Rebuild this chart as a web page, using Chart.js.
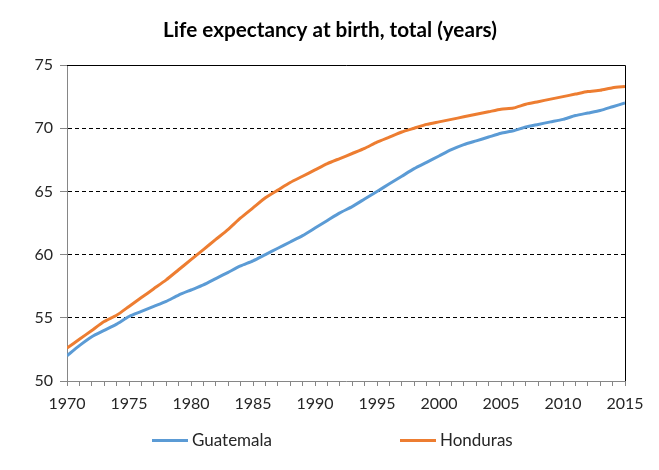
<!DOCTYPE html>
<html>
<head>
<meta charset="utf-8">
<script src="https://cdn.jsdelivr.net/npm/chart.js@4/dist/chart.umd.min.js"></script>
<style>
  html, body { margin: 0; padding: 0; background: #fff; }
  #wrap { width: 659px; height: 470px; position: relative; }
  #legend { position: absolute; top: 430px; left: 0; width: 659px; height: 20px; font-family: Lato, "Open Sans", sans-serif; font-size: 17px; color: #262626; }
  .item { position: absolute; top: 0; height: 20px; line-height: 20px; white-space: nowrap; }
  .swatch { display: inline-block; width: 36px; height: 3px; vertical-align: middle; margin-right: 4px; position: relative; top: -1px; }
</style>
</head>
<body>
<div id="wrap">
  <canvas id="c" width="659" height="470"></canvas>
  <div id="legend"></div>
</div>
<script>
const years = [1970,1971,1972,1973,1974,1975,1976,1977,1978,1979,1980,1981,1982,1983,1984,1985,1986,1987,1988,1989,1990,1991,1992,1993,1994,1995,1996,1997,1998,1999,2000,2001,2002,2003,2004,2005,2006,2007,2008,2009,2010,2011,2012,2013,2014,2015];
const guatemala = [52.0,52.8,53.5,54.0,54.5,55.1,55.5,55.9,56.3,56.8,57.2,57.6,58.1,58.6,59.1,59.5,60.0,60.5,61.0,61.5,62.1,62.7,63.3,63.8,64.4,65.0,65.6,66.2,66.8,67.3,67.8,68.3,68.7,69.0,69.3,69.6,69.8,70.1,70.3,70.5,70.7,71.0,71.2,71.4,71.7,72.0];
const honduras = [52.6,53.3,54.0,54.7,55.2,55.9,56.6,57.3,58.0,58.8,59.6,60.4,61.2,62.0,62.9,63.7,64.5,65.1,65.7,66.2,66.7,67.2,67.6,68.0,68.4,68.9,69.3,69.7,70.0,70.3,70.5,70.7,70.9,71.1,71.3,71.5,71.6,71.9,72.1,72.3,72.5,72.7,72.9,73.0,73.2,73.3];
const yTicks = [50,55,60,65,70,75];
const xLabelYears = [1970,1975,1980,1985,1990,1995,2000,2005,2010,2015];
const seriesNames = ['Guatemala', 'Honduras'];
const seriesColors = ['#5B9BD5', '#ED7D31'];
const titleText = 'Life expectancy at birth, total (years)';

const FONT = 'Lato, "Open Sans", "Noto Sans", sans-serif';

const frame = {
  id: 'frame',
  afterLayout(chart) {
    const t = chart.titleBlock;
    if (t) { t.left = 0; t.right = 660; t.width = 660; }
  },
  afterDraw(chart) {
    const {ctx, chartArea: a} = chart;
    ctx.save();
    ctx.strokeStyle = '#000';
    ctx.lineWidth = 1;
    ctx.beginPath();
    ctx.moveTo(a.left, Math.round(a.top) + 0.5);
    ctx.lineTo(Math.round(a.right) + 0.5, Math.round(a.top) + 0.5);
    ctx.lineTo(Math.round(a.right) + 0.5, a.bottom);
    ctx.stroke();
    ctx.restore();
  }
};

const chart = new Chart(document.getElementById('c'), {
  type: 'line',
  data: {
    datasets: [
      { label: seriesNames[0], data: years.map((y, i) => ({x: y, y: guatemala[i]})), borderColor: seriesColors[0], backgroundColor: seriesColors[0], borderWidth: 3, pointRadius: 0, tension: 0.2, fill: false },
      { label: seriesNames[1], data: years.map((y, i) => ({x: y, y: honduras[i]})), borderColor: seriesColors[1], backgroundColor: seriesColors[1], borderWidth: 3, pointRadius: 0, tension: 0.2, fill: false }
    ]
  },
  plugins: [frame],
  options: {
    responsive: false,
    animation: false,
    layout: { padding: { left: 10, right: 34, top: 8, bottom: 49 } },
    plugins: {
      title: { display: true, text: titleText, color: '#000', font: { family: FONT, size: 20.7, weight: 'bold', lineHeight: 1.16 }, padding: { top: 10, bottom: 23 } },
      legend: { display: false },
      tooltip: { enabled: false }
    },
    scales: {
      x: {
        type: 'linear', min: 1970, max: 2015,
        afterBuildTicks(s) { s.ticks = years.map(v => ({value: v})); },
        ticks: { autoSkip: false, maxRotation: 0, color: '#262626', font: { family: FONT, size: 16 }, padding: 8,
          callback: v => xLabelYears.includes(v) ? String(v) : '' },
        grid: { drawOnChartArea: false, drawTicks: true, tickLength: 5, tickColor: '#868686' },
        border: { color: '#868686', width: 1 },
        afterFit(s) { s.height = 40; }
      },
      y: {
        min: 50, max: 75,
        afterBuildTicks(s) { s.ticks = yTicks.map(v => ({value: v})); },
        ticks: { color: '#262626', font: { family: FONT, size: 16 }, padding: 7 },
        grid: { color: ctx => (ctx.tick && (ctx.tick.value === 50 || ctx.tick.value === 75)) ? 'rgba(0,0,0,0)' : '#000', tickColor: '#868686', tickLength: 7 },
        border: { color: '#868686', width: 1, dash: [4, 3] },
        afterFit(s) { s.width = 57; }
      }
    }
  }
});

// Legend (HTML text) built from the dataset names and colours
const legendPos = [152, 400];
const legend = document.getElementById('legend');
seriesNames.forEach((name, i) => {
  const d = document.createElement('div');
  d.className = 'item';
  d.style.left = legendPos[i] + 'px';
  const sw = document.createElement('span');
  sw.className = 'swatch';
  sw.style.background = seriesColors[i];
  d.appendChild(sw);
  d.appendChild(document.createTextNode(name));
  legend.appendChild(d);
});
</script>
</body>
</html>
